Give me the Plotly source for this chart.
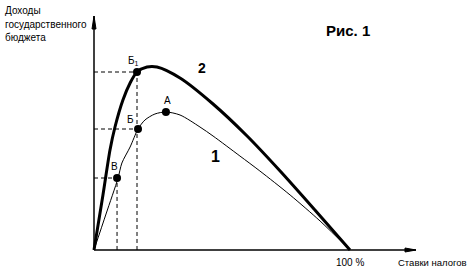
import plotly.graph_objects as go

# Curve 1 (thin): tax rate (%) vs budget revenue (arbitrary units)
rate1 = [0, 4.7, 9.4, 10.9, 14.1, 17.2, 19.9, 23.8, 28.1, 33.6, 41.4, 46.5, 57.0, 64.8, 76.6, 88.3, 100]
rev1 = [0, 36, 72, 87, 103, 121, 130, 136, 138, 135, 123, 114, 94, 79, 55, 29, 0]

# Curve 2 (thick)
rate2 = [0, 3.5, 6.25, 8.2, 11.3, 14.1, 16.8, 20.7, 24.6, 33.6, 46.5, 59.8, 72.7, 86.3, 100]
rev2 = [0, 55, 100, 123, 150, 167, 178, 183, 183, 172, 146, 114, 79, 40, 0]

# Marked points
pt_labels = ["В", "Б", "А", "Б<sub>1</sub>"]
pt_rate = [9.0, 17.2, 28.1, 16.8]
pt_rev = [72, 121, 138, 178]

PX = 2.56  # pixels per % on x
X0 = 94    # pixel of origin x
Y0 = 250   # pixel of origin y

def dx(px):
    return (px - X0) / PX

fig = go.Figure()

# dashed guide lines
dash = dict(color="black", width=1, dash="4px,3px")
guides = [
    ([0, pt_rate[3], pt_rate[3]], [pt_rev[3], pt_rev[3], 0]),
    ([0, pt_rate[1]], [pt_rev[1], pt_rev[1]]),
    ([0, pt_rate[0], pt_rate[0]], [pt_rev[0], pt_rev[0], 0]),
]
for gx, gy in guides:
    fig.add_trace(go.Scatter(x=gx, y=gy, mode="lines", line=dash, hoverinfo="skip"))

fig.add_trace(go.Scatter(x=rate1, y=rev1, mode="lines",
                         line=dict(color="black", width=1, shape="spline", smoothing=0.8)))
fig.add_trace(go.Scatter(x=rate2, y=rev2, mode="lines",
                         line=dict(color="black", width=3, shape="spline", smoothing=0.8)))
fig.add_trace(go.Scatter(x=pt_rate, y=pt_rev, mode="markers",
                         marker=dict(color="black", size=8)))

# axes lines
x_end = dx(416)
y_end = Y0 - 16
fig.add_shape(type="line", x0=0, y0=0, x1=x_end, y1=0, line=dict(color="black", width=1.5))
fig.add_shape(type="line", x0=0, y0=0, x1=0, y1=y_end, line=dict(color="black", width=1.5))
# arrow heads
fig.add_shape(type="path",
              path=f"M {dx(405)} 2 L {x_end} 0 L {dx(405)} -2 Z",
              fillcolor="black", line=dict(color="black", width=1))
fig.add_shape(type="path",
              path=f"M {dx(92)} {Y0-29} L 0 {y_end} L {dx(96)} {Y0-29} Z",
              fillcolor="black", line=dict(color="black", width=1))

font = dict(family="Arial, Liberation Sans, sans-serif", color="black")

def ann(text, px, py, size, anchor="center", weight=None):
    f = dict(font, size=size)
    if weight:
        f["weight"] = weight
    fig.add_annotation(x=px / 476, y=1 - py / 278, xref="paper", yref="paper",
                       text=text, showarrow=False, font=f, xanchor=anchor, yanchor="middle")

# point labels
lbl_px = [(114, 166), (130, 119), (167, 101), (133, 61)]
for t, (px, py) in zip(pt_labels, lbl_px):
    ann(t, px, py, 10)

ann("2", 202, 68, 14, weight="bold")
ann("1", 215, 156, 16, weight="bold")
ann("Рис. 1", 348, 31, 15, weight="bold")
ann("Доходы", 3, 11, 10, anchor="left")
ann("государственного", 3, 24, 10, anchor="left")
ann("бюджета", 3, 37, 10, anchor="left")
ann("100 %", 350, 262, 10)
ann("Ставки налогов", 432, 262, 9.5)

fig.update_layout(
    width=476, height=278,
    margin=dict(l=0, r=0, t=0, b=0),
    paper_bgcolor="white", plot_bgcolor="white",
    showlegend=False,
    xaxis=dict(visible=False, range=[-X0 / PX, (476 - X0) / PX]),
    yaxis=dict(visible=False, range=[-(278 - Y0), Y0]),
)

fig.write_html("out.html")
